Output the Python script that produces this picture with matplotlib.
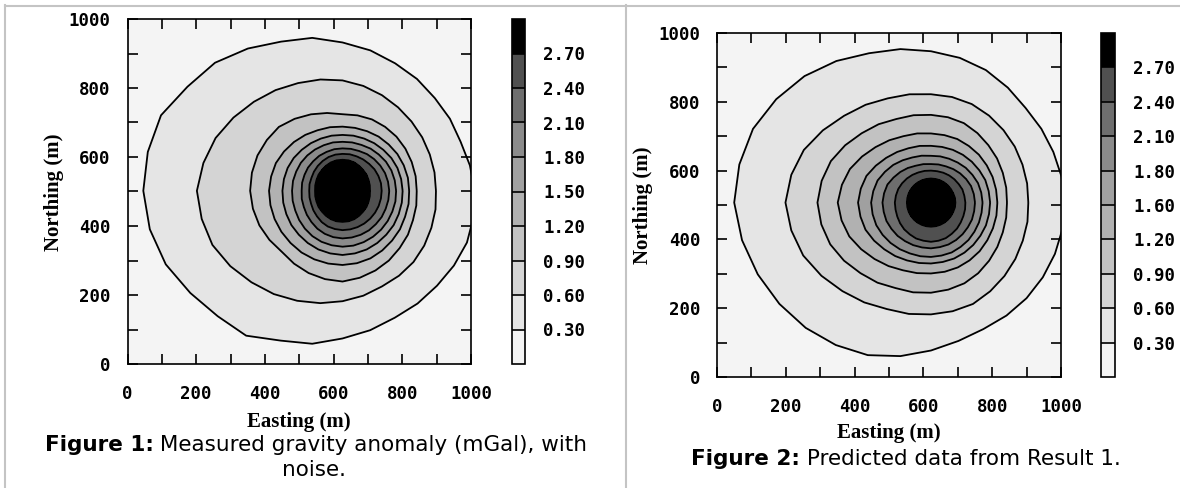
import numpy as np
import matplotlib
matplotlib.use('Agg')
import matplotlib.pyplot as plt

# ---- data ----
# contour levels (mGal) and, for each level, the distance (m) of the contour
# from the anomaly centre along 32 directions (every 11.25 deg, ccw from east)
levels = [0.3, 0.6, 0.9, 1.2, 1.5, 1.8, 2.1, 2.4, 2.7]
angles_deg = [i * 11.25 for i in range(32)]
peak_value = 3.0        # inside the 2.70 contour
background_value = 0.0  # far outside the 0.30 contour
background_radius = 1000

fig1_center = [626, 502]
fig1_ring_r = [
    [385, 378, 372, 376, 380, 390, 400, 415, 430, 452, 468, 496, 525, 543, 572, 578,
     580, 572, 557, 533, 514, 505, 470, 452, 428, 412, 398, 393, 389, 390, 392, 389],  # 0.3
    [272, 273, 275, 279, 284, 291, 300, 310, 320, 329, 338, 351, 365, 382, 400, 413,
     424, 418, 410, 393, 375, 360, 345, 332, 320, 310, 300, 296, 292, 286, 280, 276],  # 0.6
    [216, 217, 218, 220, 222, 223, 224, 223, 222, 230, 240, 251, 262, 265, 268, 269,
     269, 266, 262, 256, 250, 254, 258, 261, 263, 257, 250, 243, 235, 229, 222, 219],  # 0.9
    [194, 194, 193, 192, 190, 189, 187, 186, 186, 188, 190, 195, 200, 205, 210, 212,
     214, 214, 214, 214, 214, 215, 215, 215, 215, 214, 212, 208, 204, 201, 197, 196],  # 1.2
    [175, 174, 173, 171, 168, 166, 164, 163, 162, 163, 164, 166, 168, 171, 173, 174,
     175, 176, 177, 179, 180, 182, 184, 185, 186, 185, 184, 182, 180, 179, 177, 176],  # 1.5
    [156, 155, 154, 152, 149, 147, 144, 143, 142, 143, 143, 144, 145, 146, 146, 147,
     147, 148, 149, 152, 155, 158, 160, 161, 162, 162, 161, 160, 159, 158, 157, 157],  # 1.8
    [136, 135, 134, 132, 130, 128, 125, 124, 123, 123, 122, 122, 121, 121, 120, 120,
     119, 121, 122, 125, 128, 132, 135, 137, 138, 138, 138, 138, 137, 137, 136, 136],  # 2.1
    [114, 114, 113, 112, 110, 109, 108, 108, 107, 107, 106, 104, 102, 100, 98, 98,
     97, 98, 99, 102, 105, 109, 112, 113, 114, 114, 114, 114, 114, 114, 114, 114],     # 2.4
    [80, 81, 82, 84, 85, 87, 89, 90, 90, 90, 89, 87, 85, 84, 82, 81,
     80, 81, 82, 84, 85, 87, 89, 90, 90, 90, 89, 87, 85, 84, 82, 81],                  # 2.7
]

fig2_center = [622, 507]
fig2_ring_r = [
    [390, 387, 385, 386, 389, 402, 417, 429, 440, 455, 470, 495, 520, 541, 560, 568,
     572, 560, 545, 530, 515, 498, 480, 455, 430, 410, 398, 395, 393, 391, 390, 390],  # 0.3
    [283, 285, 288, 293, 298, 304, 310, 313, 315, 321, 328, 342, 357, 378, 400, 414,
     423, 414, 402, 383, 364, 349, 335, 330, 325, 322, 319, 310, 302, 295, 289, 286],  # 0.6
    [221, 223, 226, 231, 236, 243, 250, 253, 255, 259, 263, 274, 285, 300, 315, 324,
     330, 325, 317, 304, 290, 280, 269, 266, 262, 258, 254, 247, 239, 232, 226, 223],  # 0.9
    [193, 193, 194, 195, 197, 198, 200, 200, 201, 205, 209, 218, 228, 241, 255, 264,
     271, 265, 257, 244, 232, 222, 213, 209, 206, 205, 204, 202, 200, 197, 195, 194],  # 1.2
    [172, 171, 171, 169, 168, 167, 166, 165, 165, 168, 171, 177, 184, 193, 203, 208,
     212, 209, 206, 199, 192, 187, 182, 179, 177, 176, 176, 175, 174, 173, 173, 172],  # 1.5
    [150, 149, 148, 145, 143, 140, 138, 137, 136, 139, 142, 148, 155, 161, 168, 171,
     174, 173, 172, 169, 166, 163, 160, 159, 158, 157, 157, 155, 154, 152, 151, 150],  # 1.8
    [128, 127, 126, 123, 120, 117, 114, 113, 112, 114, 116, 121, 126, 131, 137, 139,
     141, 140, 140, 138, 137, 135, 134, 133, 133, 132, 132, 131, 130, 129, 129, 128],  # 2.1
    [100, 99, 99, 97, 96, 95, 94, 93, 93, 94, 95, 97, 99, 101, 103, 104,
     105, 105, 106, 108, 110, 111, 113, 113, 114, 113, 112, 109, 107, 104, 102, 101],  # 2.4
    [71, 71, 70, 70, 70, 70, 70, 70, 70, 70, 70, 70, 70, 70, 70, 70,
     70, 70, 70, 70, 70, 70, 70, 70, 70, 70, 70, 70, 70, 70, 70, 71],                  # 2.7
]

cbar_labels1 = ['0.30', '0.60', '0.90', '1.20', '1.50', '1.80', '2.10', '2.40', '2.70']
cbar_labels2 = ['0.30', '0.60', '0.90', '1.20', '1.60', '1.80', '2.10', '2.40', '2.70']

band_colors = ['#f4f4f4', '#e5e5e5', '#d4d4d4', '#c2c2c2', '#b1b1b1', '#a0a0a0',
               '#8b8b8b', '#6e6e6e', '#505050', '#000000']

W, H = 1180, 488


def ring_mesh(center, rings):
    # polar mesh: centre, the contour rings (2.7 -> 0.3), then the background
    th = np.deg2rad(np.append(angles_deg, 360.0))
    r = [np.zeros(len(th))] + [np.append(rr, rr[0]) for rr in rings[::-1]]
    r = np.array(r + [np.full(len(th), float(background_radius))])
    z = np.concatenate([[peak_value], levels[::-1], [background_value]])
    X = center[0] + r * np.cos(th)
    Y = center[1] + r * np.sin(th)
    Z = np.repeat(z[:, None], len(th), axis=1)
    return X, Y, Z


fig = plt.figure(figsize=(W / 100, H / 100), dpi=100)


def rect(x0, y0, x1, y1):
    return [x0 / W, 1 - y1 / H, (x1 - x0) / W, (y1 - y0) / H]


tick_font = dict(family='DejaVu Sans Mono', weight='bold', size=12.5)
lab_font = dict(family='Liberation Serif', weight='bold', size=15)
# contour through the ring nodes (tiny offset keeps the line on the nodes)
bounds = [-1] + [v - 1e-6 for v in levels] + [9]


def panel(axr, cbr, center, rings, cblabels, xl, yl):
    X, Y, Z = ring_mesh(center, rings)
    ax = fig.add_axes(rect(*axr))
    ax.set_facecolor(band_colors[0])
    cs = ax.contourf(X, Y, Z, levels=bounds, colors=band_colors)
    ax.contour(X, Y, Z, levels=bounds[1:-1], colors='k', linewidths=1.3)
    ax.set_xlim(0, 1000); ax.set_ylim(0, 1000)
    ax.set_xticks(range(0, 1001, 100)); ax.set_yticks(range(0, 1001, 100))
    tl = [str(v) if v % 200 == 0 else '' for v in range(0, 1001, 100)]
    ax.set_xticklabels(tl, **tick_font); ax.set_yticklabels(tl, **tick_font)
    ax.tick_params(direction='in', length=7, width=1.2, top=True, right=True)
    ax.tick_params(axis='x', pad=15); ax.tick_params(axis='y', pad=12)
    for s in ax.spines.values():
        s.set_linewidth(1.2)
        s.set_zorder(5)
    cax = fig.add_axes(rect(*cbr))
    cb = fig.colorbar(cs, cax=cax, drawedges=True)
    cb.set_ticks(bounds[1:-1])
    cb.set_ticklabels(cblabels, **tick_font)
    cb.ax.tick_params(length=0, pad=13)
    cb.outline.set_linewidth(1.2)
    cb.dividers.set_linewidth(1.2)
    fig.text(xl[0] / W, 1 - xl[1] / H, 'Easting (m)', ha='center', va='center', **lab_font)
    fig.text(yl[0] / W, 1 - yl[1] / H, 'Northing (m)', ha='center', va='center',
             rotation=90, **lab_font)


panel((127.5, 19, 471, 364), (512, 19, 525, 364), fig1_center, fig1_ring_r, cbar_labels1,
      (299, 422), (54, 192))
panel((717, 33, 1061, 377), (1101, 33, 1115, 377), fig2_center, fig2_ring_r, cbar_labels2,
      (889, 433), (643, 205))

cap = dict(family='DejaVu Sans', size=15.5, va='center')
renderer = fig.canvas.get_renderer()


def caption(xc, y, bold, rest):
    t1 = fig.text(0, 1 - y / H, bold, fontweight='bold', ha='left', **cap)
    t2 = fig.text(0, 1 - y / H, rest, ha='left', **cap)
    w1 = t1.get_window_extent(renderer).width
    w2 = t2.get_window_extent(renderer).width
    x0 = xc - (w1 + w2) / 2
    t1.set_x(x0 / W); t2.set_x((x0 + w1) / W)


caption(316, 445, 'Figure 1:', ' Measured gravity anomaly (mGal), with')
fig.text(314 / W, 1 - 470 / H, 'noise.', ha='center', **cap)
caption(906, 459, 'Figure 2:', ' Predicted data from Result 1.')

# page table borders around the two figure cells
for xs, ys in [((5, 1180), (5.5, 5.5)), ((5, 5), (5, 488)), ((625.5, 625.5), (5, 488))]:
    fig.add_artist(plt.Line2D([p / W for p in xs], [1 - p / H for p in ys],
                              color='#c4c4c4', lw=1.5))

fig.savefig('out.png', dpi=100)
